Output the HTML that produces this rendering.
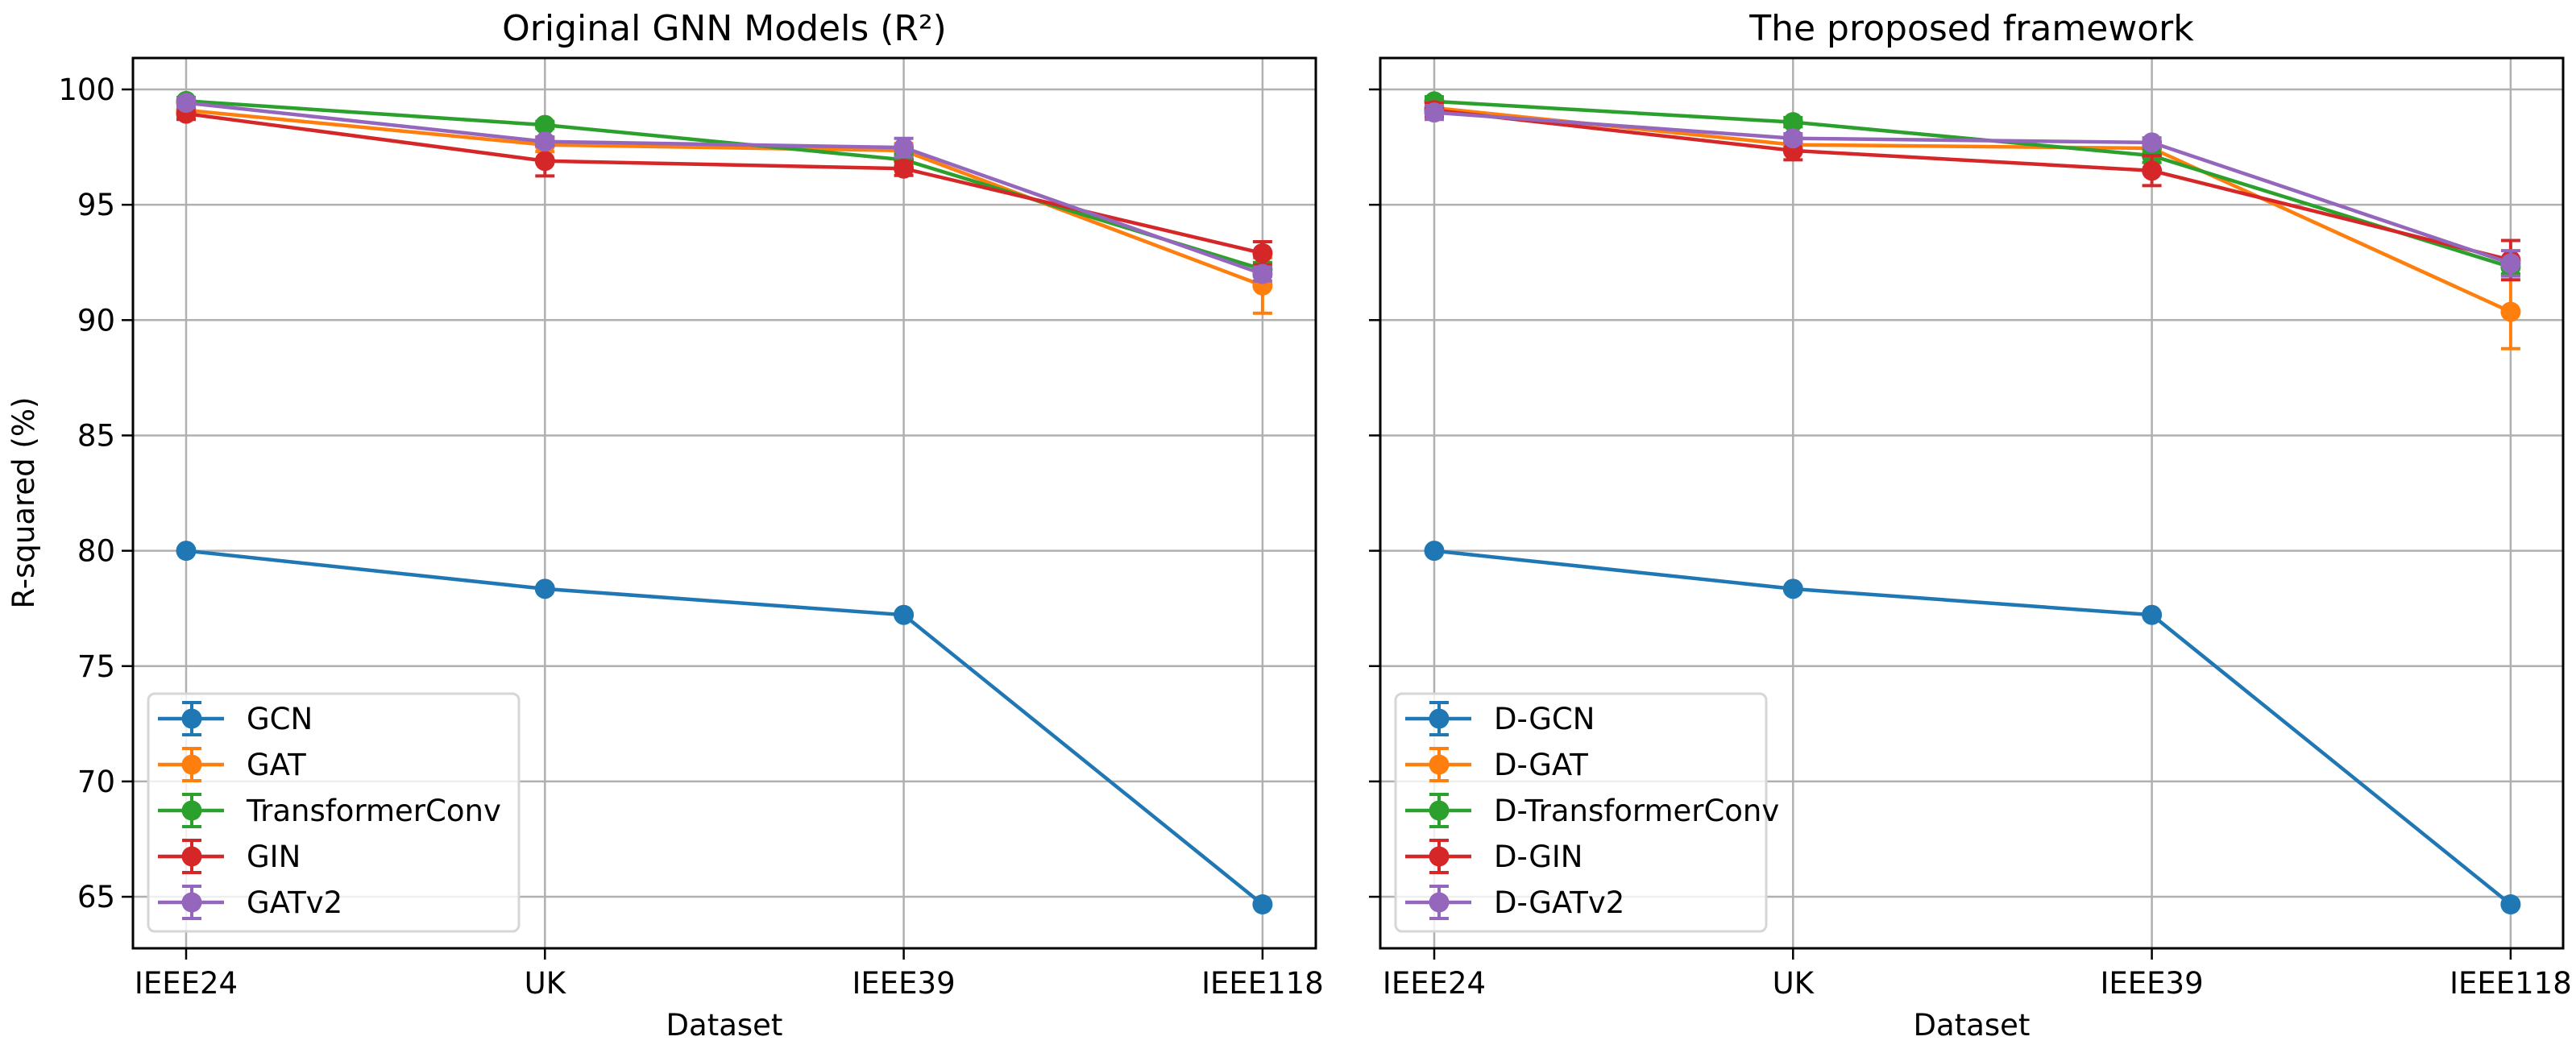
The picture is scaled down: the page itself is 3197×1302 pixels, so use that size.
<!DOCTYPE html>
<html><head><meta charset="utf-8"><style>
html,body{margin:0;padding:0;background:#fff;}
svg{display:block;font-family:"DejaVu Sans","Liberation Sans",sans-serif;}
</style></head><body>
<svg id="chart" width="3197" height="1302" viewBox="0 0 3197 1302" xmlns="http://www.w3.org/2000/svg"></svg>
<script>
const categories = ["IEEE24","UK","IEEE39","IEEE118"];
const yTicks = [65,70,75,80,85,90,95,100];
const leftNames = ["GCN","GAT","TransformerConv","GIN","GATv2"];
const rightNames = ["D-GCN","D-GAT","D-TransformerConv","D-GIN","D-GATv2"];
const colors = ["#1f77b4","#ff7f0e","#2ca02c","#d62728","#9467bd"];
const leftGCN = [80.0,78.35,77.22,64.67];
const leftGAT = [99.1,97.6,97.35,91.5];
const leftTrans = [99.5,98.46,96.95,92.2];
const leftGIN = [98.95,96.9,96.57,92.9];
const leftGATv2 = [99.42,97.74,97.48,92.0];
const leftGCNErr = [0.05,0.05,0.05,0.05];
const leftGATErr = [0.3,0.3,0.3,1.2];
const leftTransErr = [0.15,0.15,0.25,0.3];
const leftGINErr = [0.25,0.65,0.3,0.5];
const leftGATv2Err = [0.2,0.2,0.4,0.3];
const rightGCN = [80.0,78.35,77.22,64.67];
const rightGAT = [99.2,97.6,97.45,90.36];
const rightTrans = [99.48,98.58,97.13,92.3];
const rightGIN = [99.1,97.35,96.48,92.6];
const rightGATv2 = [99.0,97.88,97.7,92.46];
const rightGCNErr = [0.05,0.05,0.05,0.05];
const rightGATErr = [0.3,0.3,0.2,1.6];
const rightTransErr = [0.2,0.2,0.3,0.3];
const rightGINErr = [0.3,0.4,0.65,0.85];
const rightGATv2Err = [0.3,0.2,0.2,0.55];

const NS="http://www.w3.org/2000/svg";
const svg=document.getElementById('chart');
function mk(tag,attrs,parent){const e=document.createElementNS(NS,tag);for(const k in attrs)e.setAttribute(k,attrs[k]);(parent||svg).appendChild(e);return e;}
const Y0=111, PXU=28.63;
function yScale(v){return Y0+(100-v)*PXU;}
const TOP=72, BOT=1177;

function panel(ax, title, names, series, errs, showYLabels, pname){
  const g=mk('g',{});
  
  
  const x0=ax.x0, x1=ax.x1;
  const xScale=i=>ax.first+i*ax.step;
  // grid
  yTicks.forEach(t=>{
    const l=mk('line',{x1:x0,x2:x1,y1:yScale(t),y2:yScale(t),stroke:'#b0b0b0','stroke-width':2.5},g);
    
    
    mk('line',{x1:x0-14,x2:x0,y1:yScale(t),y2:yScale(t),stroke:'#000','stroke-width':2.5},g);
    if(showYLabels){
      const tx=mk('text',{x:x0-22,y:yScale(t)+13,'font-size':37,'text-anchor':'end',fill:'#000'},g);
      tx.textContent=t;
      
      
    }
  });
  categories.forEach((c,i)=>{
    const l=mk('line',{x1:xScale(i),x2:xScale(i),y1:TOP,y2:BOT,stroke:'#b0b0b0','stroke-width':2.5},g);
    
    
    mk('line',{x1:xScale(i),x2:xScale(i),y1:BOT,y2:BOT+14,stroke:'#000','stroke-width':2.5},g);
    const tx=mk('text',{x:xScale(i),y:1233,'font-size':37,'text-anchor':'middle',fill:'#000'},g);
    tx.textContent=c;
    
    
  });
  // series
  series.forEach((vals,si)=>{
    const sg=mk('g',{},g);
    
    
    const pts=vals.map((v,i)=>xScale(i)+','+yScale(v)).join(' ');
    mk('polyline',{points:pts,fill:'none',stroke:colors[si],'stroke-width':4.5,'stroke-linejoin':'round'},sg);
    vals.forEach((v,i)=>{
      const e=errs[si][i], cx=xScale(i);
      mk('line',{x1:cx,x2:cx,y1:yScale(v+e),y2:yScale(v-e),stroke:colors[si],'stroke-width':4},sg);
      mk('line',{x1:cx-12,x2:cx+12,y1:yScale(v+e),y2:yScale(v+e),stroke:colors[si],'stroke-width':4},sg);
      mk('line',{x1:cx-12,x2:cx+12,y1:yScale(v-e),y2:yScale(v-e),stroke:colors[si],'stroke-width':4},sg);
      const c=mk('circle',{cx:cx,cy:yScale(v),r:12.5,fill:colors[si]},sg);
      
      
    });
  });
  // spines
  mk('rect',{x:x0,y:TOP,width:x1-x0,height:BOT-TOP,fill:'none',stroke:'#000','stroke-width':3},g);
  // title
  const tt=mk('text',{x:(x0+x1)/2,y:50,'font-size':44,'text-anchor':'middle',fill:'#000'},g);
  tt.textContent=title;
  
  
  const xl=mk('text',{x:(x0+x1)/2,y:1285,'font-size':37,'text-anchor':'middle',fill:'#000'},g);
  xl.textContent='Dataset';
  
  
  // legend
  const lg=mk('g',{},g);
  
  
  const lx=x0+19;
  mk('rect',{x:lx,y:861,width:460,height:295,rx:8,fill:'rgba(255,255,255,0.8)',stroke:'#d6d6d6','stroke-width':3},lg);
  names.forEach((n,i)=>{
    const ey=892+i*57, mx=lx+54;
    const eg=mk('g',{},lg);
    
    
    mk('line',{x1:lx+12,x2:lx+94,y1:ey,y2:ey,stroke:colors[i],'stroke-width':4.5},eg);
    mk('line',{x1:mx,x2:mx,y1:ey-20,y2:ey+20,stroke:colors[i],'stroke-width':4},eg);
    mk('line',{x1:mx-12,x2:mx+12,y1:ey-20,y2:ey-20,stroke:colors[i],'stroke-width':4},eg);
    mk('line',{x1:mx-12,x2:mx+12,y1:ey+20,y2:ey+20,stroke:colors[i],'stroke-width':4},eg);
    mk('circle',{cx:mx,cy:ey,r:12.5,fill:colors[i]},eg);
    const t=mk('text',{x:lx+122,y:ey+13,'font-size':37,fill:'#000'},eg);
    t.textContent=n;
  });
}
panel({x0:165,x1:1633,first:231,step:445.3},'Original GNN Models (R²)',leftNames,
  [leftGCN,leftGAT,leftTrans,leftGIN,leftGATv2],[leftGCNErr,leftGATErr,leftTransErr,leftGINErr,leftGATv2Err],true,'left-panel');
panel({x0:1713,x1:3181,first:1780,step:445.3},'The proposed framework',rightNames,
  [rightGCN,rightGAT,rightTrans,rightGIN,rightGATv2],[rightGCNErr,rightGATErr,rightTransErr,rightGINErr,rightGATv2Err],false,'right-panel');
const yl=mk('text',{x:0,y:0,'font-size':37,'text-anchor':'middle',fill:'#000',transform:'translate(42,624) rotate(-90)'});
yl.textContent='R-squared (%)';


</script>
</body></html>
